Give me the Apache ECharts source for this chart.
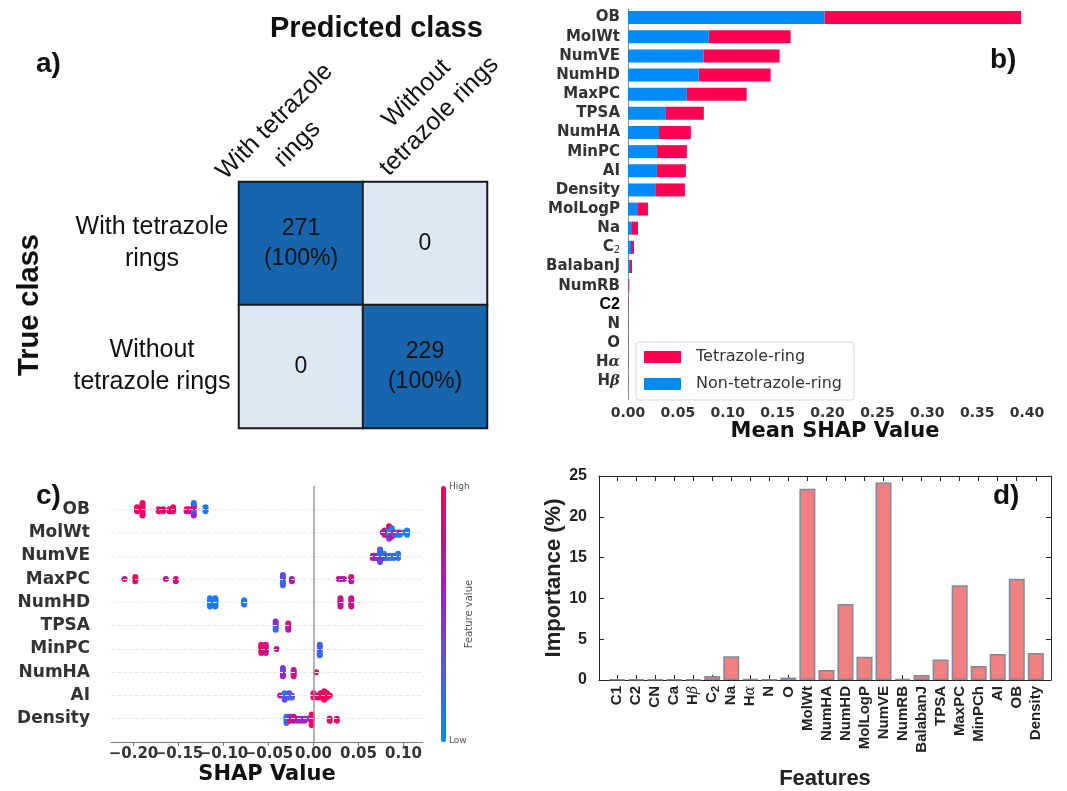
<!DOCTYPE html>
<html>
<head>
<meta charset="utf-8">
<script src="https://cdn.jsdelivr.net/npm/echarts@6/dist/echarts.min.js"></script>
<style>
  html, body { margin: 0; background: #fff; }
  #chart { width: 1067px; height: 791px; }
</style>
</head>
<body>
<div id="chart"></div>
<script>
// ---- a) confusion matrix ----
const classLabels = ["With tetrazole\nrings", "Without\ntetrazole rings"];
const confusionCounts = [
  [271, 0], // true: with tetrazole rings
  [0, 229]  // true: without tetrazole rings
];

// ---- b) mean SHAP value per class ----
const shapFeatures = ["OB", "MolWt", "NumVE", "NumHD", "MaxPC", "TPSA", "NumHA", "MinPC", "AI", "Density",
  "MolLogP", "Na", "C₂", "BalabanJ", "NumRB", "C2", "N", "O", "Hα", "Hβ"];
const shapNonTetrazole = [0.197, 0.081, 0.076, 0.071, 0.059, 0.038, 0.031, 0.029, 0.029, 0.028,
  0.010, 0.004, 0.003, 0.002, 0.0006, 0.0003, 0.0002, 0.0002, 0.0002, 0.0001];
const shapTetrazole = [0.197, 0.082, 0.076, 0.072, 0.060, 0.038, 0.032, 0.030, 0.029, 0.029,
  0.010, 0.006, 0.003, 0.002, 0.0007, 0.0003, 0.0002, 0.0002, 0.0002, 0.0001];
const shapTicks = [0, 0.05, 0.10, 0.15, 0.20, 0.25, 0.30, 0.35, 0.40];

// ---- c) SHAP beeswarm: [shap value, feature value 0..1] ----
const swarmFeatures = ["OB", "MolWt", "NumVE", "MaxPC", "NumHD", "TPSA", "MinPC", "NumHA", "AI", "Density"];
const swarmOB = [
  [-0.196, 0.95], [-0.196, 0.9], [-0.196, 0.97],
  [-0.190, 0.95], [-0.190, 0.92], [-0.190, 0.97], [-0.190, 0.9], [-0.190, 0.95], [-0.190, 0.93], [-0.190, 0.96],
  [-0.172, 0.9], [-0.172, 0.93], [-0.167, 0.9], [-0.167, 0.88],
  [-0.160, 0.92], [-0.160, 0.9], [-0.156, 0.95], [-0.156, 0.9], [-0.156, 0.93],
  [-0.141, 0.85], [-0.141, 0.8], [-0.138, 0.9], [-0.138, 0.75],
  [-0.133, 0.5], [-0.133, 0.3], [-0.133, 0.7], [-0.133, 0.2], [-0.133, 0.85], [-0.133, 0.6], [-0.133, 0.15],
  [-0.120, 0.08], [-0.120, 0.1], [-0.120, 0.05]
];
const swarmMolWt = [
  [0.077, 0.7], [0.079, 0.75], [0.079, 0.8], [0.081, 0.7], [0.081, 0.85],
  [0.084, 0.1], [0.084, 0.2], [0.084, 0.15], [0.084, 0.3], [0.084, 0.05], [0.084, 0.4], [0.084, 0.9],
  [0.087, 0.6], [0.087, 0.9], [0.087, 0.2], [0.087, 0.8], [0.087, 0.1],
  [0.090, 0.95], [0.090, 0.3], [0.093, 0.1], [0.093, 0.2], [0.096, 0.95], [0.096, 0.1],
  [0.100, 0.05], [0.104, 0.08], [0.104, 0.05], [0.104, 0.1]
];
const swarmNumVE = [
  [0.066, 0.7], [0.066, 0.75], [0.068, 0.6], [0.069, 0.65], [0.071, 0.6], [0.071, 0.45],
  [0.074, 0.2], [0.074, 0.3], [0.074, 0.1], [0.074, 0.5], [0.074, 0.15], [0.074, 0.35], [0.074, 0.25],
  [0.078, 0.2], [0.078, 0.5], [0.078, 0.1], [0.081, 0.3], [0.081, 0.2], [0.085, 0.15], [0.085, 0.1],
  [0.089, 0.2], [0.089, 0.1], [0.094, 0.05], [0.094, 0.1], [0.094, 0.08]
];
const swarmMaxPC = [
  [-0.210, 0.8], [-0.198, 0.9], [-0.198, 0.85], [-0.198, 0.95], [-0.164, 0.8], [-0.153, 0.85], [-0.153, 0.8],
  [-0.034, 0.3], [-0.034, 0.2], [-0.034, 0.45], [-0.034, 0.1], [-0.034, 0.35], [-0.034, 0.25],
  [-0.024, 0.65], [-0.024, 0.7],
  [0.028, 0.7], [0.031, 0.7], [0.034, 0.65], [0.042, 0.75], [0.042, 0.7], [0.042, 0.8]
];
const swarmNumHD = [
  [-0.115, 0.1], [-0.115, 0.08], [-0.115, 0.12], [-0.115, 0.1], [-0.115, 0.05],
  [-0.109, 0.08], [-0.109, 0.1], [-0.109, 0.06], [-0.109, 0.12], [-0.109, 0.1],
  [-0.077, 0.1], [-0.077, 0.12], [-0.077, 0.08],
  [0.030, 0.75], [0.030, 0.7], [0.030, 0.78], [0.030, 0.72], [0.030, 0.75],
  [0.042, 0.72], [0.042, 0.75], [0.042, 0.7], [0.042, 0.78], [0.042, 0.72]
];
const swarmTPSA = [
  [-0.042, 0.3], [-0.042, 0.15], [-0.042, 0.45], [-0.042, 0.2], [-0.042, 0.5],
  [-0.028, 0.75], [-0.028, 0.7], [-0.028, 0.8], [-0.028, 0.72]
];
const swarmMinPC = [
  [-0.058, 0.92], [-0.058, 0.9], [-0.058, 0.95], [-0.058, 0.88], [-0.058, 0.9],
  [-0.053, 0.8], [-0.053, 0.78], [-0.053, 0.85], [-0.053, 0.75], [-0.053, 0.8],
  [-0.041, 0.7],
  [0.007, 0.2], [0.007, 0.15], [0.007, 0.25], [0.007, 0.18], [0.007, 0.22], [0.007, 0.2]
];
const swarmNumHA = [
  [-0.034, 0.35], [-0.034, 0.5], [-0.034, 0.3], [-0.034, 0.6], [-0.034, 0.4],
  [-0.022, 0.75], [-0.022, 0.8], [-0.022, 0.72], [-0.022, 0.78],
  [0.003, 0.95]
];
const swarmAI = [
  [-0.037, 0.7], [-0.032, 0.15], [-0.032, 0.2], [-0.032, 0.1], [-0.032, 0.3],
  [-0.027, 0.3], [-0.027, 0.2], [-0.027, 0.4], [-0.024, 0.2], [-0.024, 0.25],
  [0.000, 0.95], [0.000, 0.9], [0.000, 0.97], [0.004, 0.95], [0.004, 0.9],
  [0.008, 0.9], [0.008, 0.95], [0.008, 0.92],
  [0.012, 0.95], [0.012, 0.9], [0.012, 0.97], [0.012, 0.93], [0.012, 0.95],
  [0.015, 0.9], [0.015, 0.95], [0.015, 0.92], [0.018, 0.95]
];
const swarmDensity = [
  [-0.030, 0.1], [-0.030, 0.15], [-0.030, 0.08], [-0.030, 0.2],
  [-0.026, 0.6], [-0.026, 0.9], [-0.026, 0.5],
  [-0.022, 0.8], [-0.022, 0.7], [-0.022, 0.85], [-0.018, 0.7], [-0.018, 0.6],
  [-0.014, 0.6], [-0.014, 0.55], [-0.010, 0.5], [-0.010, 0.6], [-0.006, 0.55],
  [-0.002, 0.95], [-0.002, 0.97], [-0.002, 0.93], [-0.002, 0.95], [-0.002, 0.9], [-0.002, 0.96],
  [0.018, 0.95], [0.018, 0.92], [0.026, 0.9], [0.026, 0.93]
];
const swarmRows = [swarmOB, swarmMolWt, swarmNumVE, swarmMaxPC, swarmNumHD,
  swarmTPSA, swarmMinPC, swarmNumHA, swarmAI, swarmDensity];
const swarmTicks = [-0.20, -0.15, -0.10, -0.05, 0, 0.05, 0.10];

// ---- d) feature importance ----
const impFeatures = ["C1", "C2", "CN", "Ca", "Hβ", "C₂", "Na", "Hα", "N", "O", "MolWt", "NumHA", "NumHD",
  "MolLogP", "NumVE", "NumRB", "BalabanJ", "TPSA", "MaxPC", "MinPCh", "AI", "OB", "Density"];
const impValues = [0.05, 0.05, 0.05, 0.05, 0.08, 0.5, 2.9, 0.1, 0.05, 0.3, 23.45, 1.24, 9.3,
  2.85, 24.2, 0.15, 0.6, 2.5, 11.6, 1.72, 3.2, 12.4, 3.3];
const impTicks = [0, 5, 10, 15, 20, 25];

const DS = "DejaVu Sans";
const LS = "Liberation Sans";
const BLUE = "#008bfb";
const RED = "#ff0052";
const SWARM_MIN = -0.225, SWARM_MAX = 0.1217;

// beeswarm layout: dots falling in the same x bin are stacked around the row
function swarm(points, row) {
  const bins = {};
  return points.map(([x, fv]) => {
    const key = Math.round(x / 0.003);
    const n = bins[key] = (bins[key] || 0) + 1;
    const k = n - 1;
    const off = (k % 2 ? 1 : -1) * Math.ceil(k / 2) * 0.09;
    return [x, row + off, fv];
  });
}
const swarmData = [];
swarmRows.forEach((pts, i) => swarmData.push(...swarm(pts, i)));

// labels with subscripts / greek letters
function richName(v, f) {
  if (v === "C₂") return "{" + f + "|C}{" + f + "s|2}";
  if (v === "Hα") return "{" + f + "|H}{" + f + "g|α}";
  if (v === "Hβ") return "{" + f + "|H}{" + f + "g|β}";
  if (v === "C2" && f === "b") return "{bk|C2}";
  return "{" + f + "|" + v + "}";
}
const shapTickText = v => (v < 0 ? "\u2212" : "") + Math.abs(v).toFixed(2);

const heatData = [];
confusionCounts.forEach((row, r) => row.forEach((n, c) => heatData.push([c, r, n])));

// faint row guides + zero line of the beeswarm
const swarmGuides = swarmFeatures.map((_, i) => [
  { coord: [SWARM_MIN, i], lineStyle: { color: "#e8e8e8", type: "dashed", width: 1 } },
  { coord: [SWARM_MAX, i] }
]);
swarmGuides.push([
  { coord: [0, -1], lineStyle: { color: "#9a9a9a", type: "solid", width: 1.5 } },
  { coord: [0, 10] }
]);

const chart = echarts.init(document.getElementById("chart"));
const option = {
  animation: false,
  textStyle: { fontFamily: LS },
  grid: [
    { left: 239, top: 182, width: 248, height: 246 },
    { left: 628, top: 8, width: 414, height: 383 },
    { left: 111, top: 486, width: 312, height: 256 },
    { left: 599, top: 476, width: 452, height: 207 }
  ],
  xAxis: [
    { gridIndex: 0, type: "category", data: classLabels, axisLabel: { show: false },
      axisLine: { show: false }, axisTick: { show: false } },
    { gridIndex: 1, type: "value", min: 0, max: 0.415, offset: 9,
      name: "Mean SHAP Value", nameLocation: "middle", nameGap: 20,
      nameTextStyle: { fontFamily: DS, fontWeight: "bold", fontSize: 21, color: "#111" },
      axisLine: { onZero: false, lineStyle: { color: "#888" } },
      axisTick: { customValues: shapTicks, length: 4, lineStyle: { color: "#888" } },
      axisLabel: { customValues: shapTicks, formatter: v => v.toFixed(2), margin: 6,
        showMinLabel: true, showMaxLabel: true,
        fontFamily: DS, fontWeight: "bold", fontSize: 14, color: "#333" },
      splitLine: { show: false } },
    // beeswarm axis: line, ticks and every other tick label
    { gridIndex: 2, type: "value", min: SWARM_MIN, max: SWARM_MAX,
      name: "SHAP Value", nameLocation: "middle", nameGap: 22,
      nameTextStyle: { fontFamily: DS, fontWeight: "bold", fontSize: 21, color: "#111" },
      axisLine: { onZero: false, lineStyle: { color: "#777" } },
      axisTick: { customValues: swarmTicks, length: 4, lineStyle: { color: "#777" } },
      axisLabel: { customValues: swarmTicks.filter((_, i) => i % 2 === 0), margin: 5,
        showMinLabel: true, showMaxLabel: true, formatter: shapTickText,
        fontFamily: DS, fontWeight: "bold", fontSize: 15, color: "#333" },
      splitLine: { show: false } },
    { gridIndex: 3, type: "value", min: 0.05, max: 23.8,
      name: "Features", nameLocation: "middle", nameGap: 88,
      nameTextStyle: { fontWeight: "bold", fontSize: 22, color: "#222" },
      axisLine: { onZero: false, lineStyle: { color: "#262626" } },
      axisTick: { inside: true, length: 5, customValues: impFeatures.map((_, i) => i + 1), lineStyle: { color: "#262626" } },
      axisLabel: { customValues: impFeatures.map((_, i) => i + 1), rotate: 90, margin: 6,
        showMinLabel: true, showMaxLabel: true,
        formatter: v => richName(impFeatures[v - 1], "d"),
        rich: {
          d: { fontFamily: LS, fontWeight: "bold", fontSize: 15, color: "#222" },
          ds: { fontFamily: LS, fontWeight: "bold", fontSize: 11, color: "#222", padding: [7, 0, 0, 0] },
          dg: { fontFamily: "DejaVu Serif", fontStyle: "italic", fontSize: 14, color: "#222" }
        } },
      splitLine: { show: false } },
    { gridIndex: 3, type: "value", min: 0.05, max: 23.8, position: "top",
      axisLine: { onZero: false, lineStyle: { color: "#262626" } },
      axisTick: { inside: true, length: 5, customValues: impFeatures.map((_, i) => i + 1), lineStyle: { color: "#262626" } },
      axisLabel: { show: false }, splitLine: { show: false } },
    // beeswarm axis: the remaining tick labels (they touch their neighbours, as in the figure)
    { gridIndex: 2, type: "value", min: SWARM_MIN, max: SWARM_MAX, position: "bottom",
      axisLine: { show: false, onZero: false }, axisTick: { show: false },
      axisLabel: { customValues: swarmTicks.filter((_, i) => i % 2 === 1), margin: 5,
        showMinLabel: true, showMaxLabel: true, formatter: shapTickText,
        fontFamily: DS, fontWeight: "bold", fontSize: 15, color: "#333" },
      splitLine: { show: false } }
  ],
  yAxis: [
    { gridIndex: 0, type: "category", data: classLabels, inverse: true,
      axisLine: { show: false }, axisTick: { show: false },
      axisLabel: { align: "center", margin: 87, fontSize: 25, lineHeight: 32, color: "#111" } },
    { gridIndex: 1, type: "category", data: shapFeatures, inverse: true,
      axisLine: { show: false }, axisTick: { show: false },
      axisLabel: { margin: 8, interval: 0, formatter: v => richName(v, "b"),
        rich: {
          b: { fontFamily: DS, fontWeight: "bold", fontSize: 15, color: "#333" },
          bs: { fontFamily: DS, fontSize: 10, color: "#333", padding: [6, 0, 0, 0] },
          bg: { fontFamily: "DejaVu Serif", fontStyle: "italic", fontWeight: "bold", fontSize: 15, color: "#333" },
          bk: { fontFamily: LS, fontWeight: "bold", fontSize: 16, color: "#000" }
        } } },
    { gridIndex: 2, type: "value", min: -1, max: 10, inverse: true,
      axisLine: { show: false, onZero: false }, axisTick: { show: false }, splitLine: { show: false },
      axisLabel: { customValues: swarmFeatures.map((_, i) => i), margin: 21,
        showMinLabel: true, showMaxLabel: true,
        formatter: v => swarmFeatures[v],
        fontFamily: DS, fontWeight: "bold", fontSize: 17, color: "#333" } },
    { gridIndex: 3, type: "value", min: 0, max: 25, interval: 5,
      name: "Importance (%)", nameLocation: "middle", nameGap: 27,
      nameTextStyle: { fontWeight: "bold", fontSize: 22, color: "#222" },
      axisLine: { show: true, onZero: false, lineStyle: { color: "#262626" } },
      axisTick: { inside: true, length: 5, lineStyle: { color: "#262626" } },
      axisLabel: { customValues: impTicks, margin: 12, showMinLabel: true, showMaxLabel: true,
        fontWeight: "bold", fontSize: 16, color: "#222" },
      splitLine: { show: false } },
    { gridIndex: 3, type: "value", min: 0, max: 25, interval: 5, position: "right",
      axisLine: { show: true, onZero: false, lineStyle: { color: "#262626" } },
      axisTick: { inside: true, length: 5, lineStyle: { color: "#262626" } },
      axisLabel: { show: false }, splitLine: { show: false } }
  ],
  visualMap: [
    { type: "piecewise", show: false, seriesIndex: 0, dimension: 2,
      pieces: [{ lte: 0, color: "#dce9f4" }, { gt: 0, color: "#1766ad" }] },
    { type: "continuous", seriesIndex: 4, dimension: 2, min: 0, max: 1,
      orient: "vertical", left: 441, top: 486, itemWidth: 5, itemHeight: 256, padding: 0,
      calculable: false, hoverLink: false,
      inRange: { color: [BLUE, "#4a5cf2", "#8a2be2", "#c8108f", RED] } }
  ],
  legend: {
    data: ["Tetrazole-ring", "Non-tetrazole-ring"],
    orient: "vertical", left: 636, top: 342, icon: "rect",
    itemWidth: 37, itemHeight: 12, itemGap: 11, padding: [7, 12, 8, 8],
    borderColor: "#d9d9d9", borderWidth: 1, borderRadius: 3,
    textStyle: { fontFamily: DS, fontSize: 16, color: "#333", padding: [0, 0, 0, 10] }
  },
  series: [
    { type: "heatmap", xAxisIndex: 0, yAxisIndex: 0, data: heatData,
      itemStyle: { borderColor: "#1a1a1a", borderWidth: 2 },
      label: { show: true, fontSize: 23, lineHeight: 30, color: "#111",
        formatter: p => {
          const [c, r, n] = p.data;
          const total = confusionCounts[r].reduce((a, b) => a + b, 0);
          return n ? n + "\n(" + Math.round(n / total * 100) + "%)" : String(n);
        } } },
    { name: "Non-tetrazole-ring", type: "bar", xAxisIndex: 1, yAxisIndex: 1, stack: "shap",
      barWidth: 13, itemStyle: { color: BLUE }, data: shapNonTetrazole },
    { name: "Tetrazole-ring", type: "bar", xAxisIndex: 1, yAxisIndex: 1, stack: "shap",
      barWidth: 13, itemStyle: { color: RED }, data: shapTetrazole },
    { type: "line", xAxisIndex: 2, yAxisIndex: 2, data: [], z: 1,
      markLine: { silent: true, symbol: "none", label: { show: false }, data: swarmGuides } },
    { type: "scatter", xAxisIndex: 2, yAxisIndex: 2, z: 3, symbol: "circle", symbolSize: 6,
      itemStyle: { opacity: 1, borderWidth: 0 }, data: swarmData },
    { type: "bar", xAxisIndex: 3, yAxisIndex: 3, barWidth: 16,
      itemStyle: { color: "#f07f7f", borderColor: "#7f8a9e", borderWidth: 1.5 },
      data: impValues.map((v, i) => [i + 1, v]) }
  ],
  graphic: [
    { type: "text", left: 270, top: 14, style: { text: "Predicted class", font: "bold 29px 'Liberation Sans'", fill: "#111" } },
    { type: "text", x: 30, y: 305, rotation: Math.PI / 2,
      style: { text: "True class", font: "bold 29px 'Liberation Sans'", fill: "#111", align: "center", verticalAlign: "middle", textAlign: "center", textVerticalAlign: "middle" } },
    { type: "text", x: 286, y: 133, rotation: Math.PI / 4,
      style: { text: classLabels[0], font: "25px 'Liberation Sans'", lineHeight: 32, fill: "#111", align: "center", verticalAlign: "middle", textAlign: "center", textVerticalAlign: "middle" } },
    { type: "text", x: 428, y: 105, rotation: Math.PI / 4,
      style: { text: classLabels[1], font: "25px 'Liberation Sans'", lineHeight: 32, fill: "#111", align: "center", verticalAlign: "middle", textAlign: "center", textVerticalAlign: "middle" } },
    { type: "text", left: 36, top: 50, style: { text: "a)", font: "bold 28px 'Liberation Sans'", fill: "#111" } },
    { type: "text", left: 990, top: 46, style: { text: "b)", font: "bold 28px 'Liberation Sans'", fill: "#111" } },
    { type: "text", left: 36, top: 482, style: { text: "c)", font: "bold 28px 'Liberation Sans'", fill: "#111" } },
    { type: "text", left: 993, top: 482, style: { text: "d)", font: "bold 28px 'Liberation Sans'", fill: "#111" } },
    { type: "line", shape: { x1: 628.5, y1: 9, x2: 628.5, y2: 400 }, style: { stroke: "#888", lineWidth: 1 } },
    { type: "text", left: 449, top: 482, style: { text: "High", font: "9px 'DejaVu Sans'", fill: "#555" } },
    { type: "text", left: 449, top: 736, style: { text: "Low", font: "9px 'DejaVu Sans'", fill: "#555" } },
    { type: "text", x: 469, y: 614, rotation: Math.PI / 2,
      style: { text: "Feature value", font: "10px 'DejaVu Sans'", fill: "#555", align: "center", verticalAlign: "middle", textAlign: "center", textVerticalAlign: "middle" } }
  ]
};
chart.setOption(option);
window.addEventListener("resize", function () {
  chart.resize();
});
</script>
</body>
</html>
